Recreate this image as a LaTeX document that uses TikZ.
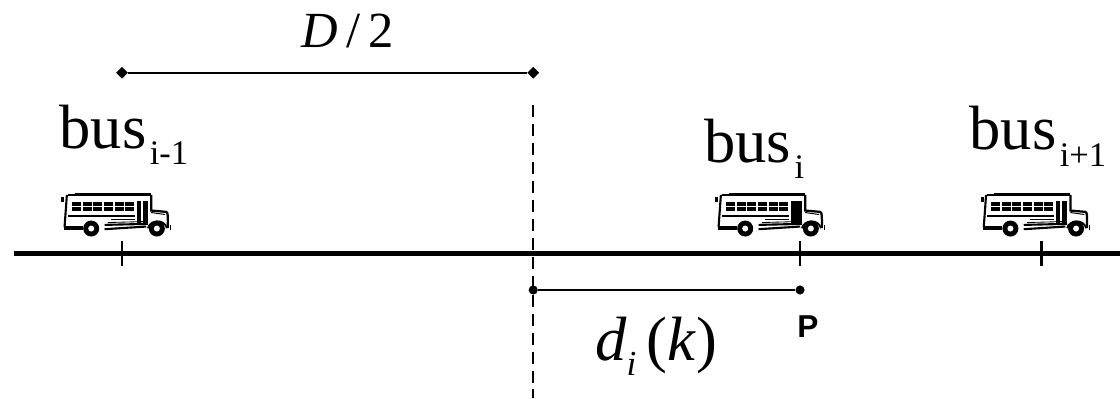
\documentclass[tikz,border=0pt]{standalone}
\usepackage{fontspec}
\setmainfont{Liberation Serif}
\setsansfont{Liberation Sans}
\usepackage{tikz}
\newcommand{\busname}[1]{bus\kern 2.5pt\raisebox{-12pt}{\fontsize{24.5}{24.5}\selectfont #1}}
\tikzset{
  roadline/.style={line width=3.4pt},
  tickline/.style={line width=1.9pt},
  spanline/.style={line width=1.4pt},
  cutline/.style={line width=1.1pt,dash pattern=on 9pt off 4.5pt},
  buslabel/.style={anchor=base west,font=\fontsize{44.5}{44.5}\selectfont,inner sep=0pt},
  spandot/.style={circle,fill=black,inner sep=0pt,minimum size=6.5pt},
  spandiamond/.style={diamond,fill=black,inner sep=0pt,minimum size=8.5pt},
  pics/schoolbus/.style={code={
    \begin{scope}[x=0.00833cm,y=-0.00833cm]
    \draw[line width=2.2pt] (-140,-175) -- (90,-175);
    \draw[line width=1.2pt] (-160,-175) -- (-140,-175);
    \draw[line width=1.5pt] (-163,-175) -- (-170,-78);
    \draw[line width=2pt] (-175,-170) -- (-175,-155);
    \foreach \px in {-148,-116,-84,-52,-20,12} {
      \fill (\px,-154) rectangle ++(27,11);
      \fill (\px,-138) rectangle ++(27,10);
    }
    \fill (47,-158) rectangle (80,-87);
    \fill[#1] (60,-158) rectangle (65,-87);
    \draw[line width=1.2pt] (-160,-112) -- (40,-112);
    \draw[line width=0.5pt] (-30,-102) -- (40,-102);
    \draw[line width=1.6pt] (90,-175) -- (90,-128) -- (135,-124) .. controls (141,-122) and (140,-110) .. (140,-75);
    \draw[line width=0.7pt] (90,-122) -- (132,-116);
    \draw[line width=2.4pt] (-172,-76) -- (-115,-76);
    \draw[line width=1.5pt] (-50,-85) -- (80,-88);
    \draw[line width=1.5pt] (-50,-72) -- (75,-80);
    \draw[line width=0.6pt] (-40,-92) -- (70,-95);
    \draw[line width=1.2pt] (80,-75) .. controls (85,-100) and (130,-105) .. (137,-75);
    \fill (145,-85) rectangle (149,-70);
    \fill (-90,-74) circle (24);
    \fill[white] (-90,-74) circle (9);
    \fill (107,-74) circle (24);
    \fill[white] (107,-74) circle (9);
    \end{scope}
  }}
}
\usetikzlibrary{shapes.geometric}
\begin{document}
\begin{tikzpicture}[x=1cm,y=1cm]
\path[use as bounding box] (0,0) rectangle (28.00,9.95);
% road
\coordinate (roadstart) at (0.35,3.62);
\coordinate (roadend) at (28.00,3.62);
\draw[roadline] (roadstart) -- (roadend);
% ticks
\coordinate (tickatop) at (3.05,3.92);
\coordinate (tickabot) at (3.05,3.30);
\coordinate (tickbtop) at (20.00,3.92);
\coordinate (tickbbot) at (20.00,3.30);
\coordinate (tickctop) at (26.03,3.92);
\coordinate (tickcbot) at (26.03,3.30);
\draw[tickline] (tickatop) -- (tickabot);
\draw[tickline] (tickbtop) -- (tickbbot);
\draw[tickline] (tickctop) -- (tickcbot);
% middle cut
\coordinate (cuttop) at (13.33,7.33);
\coordinate (cutbot) at (13.33,0);
\draw[cutline] (cuttop) -- (cutbot);
% spans
\node[spandiamond] (halfleft) at (3.05,8.13) {};
\node[spandiamond] (halfright) at (13.33,8.13) {};
\draw[spanline] (halfleft) -- (halfright);
\node[spandot] (distleft) at (13.33,2.70) {};
\node[spandot] (distright) at (20.00,2.70) {};
\draw[spanline] (distleft) -- (distright);
% buses
\pic at (3.03,3.62) {schoolbus=white};
\pic at (19.38,3.62) {schoolbus=black};
\pic at (26.01,3.62) {schoolbus=white};
% labels
\node[buslabel] (labela) at (1.48,6.25) {\busname{i-1}};
\node[buslabel] (labelb) at (17.60,5.90) {\busname{i}};
\node[buslabel] (labelc) at (24.23,6.22) {\busname{i+1}};
\node[font=\fontsize{36}{36}\selectfont,anchor=base] (halflabel) at (8.69,8.75) {\textit{D}\,/\,2};
\node[font=\fontsize{44.5}{44.5}\selectfont,anchor=base west,inner sep=0pt] (distlabel) at (14.87,0.95) {\textit{d}\raisebox{-11pt}{\fontsize{25}{25}\selectfont\textit{i}}\,(\textit{k})};
\node[font=\sffamily\bfseries\fontsize{22.5}{22.5}\selectfont,anchor=base] (pointlabel) at (20.20,1.52) {P};
\end{tikzpicture}
\end{document}
